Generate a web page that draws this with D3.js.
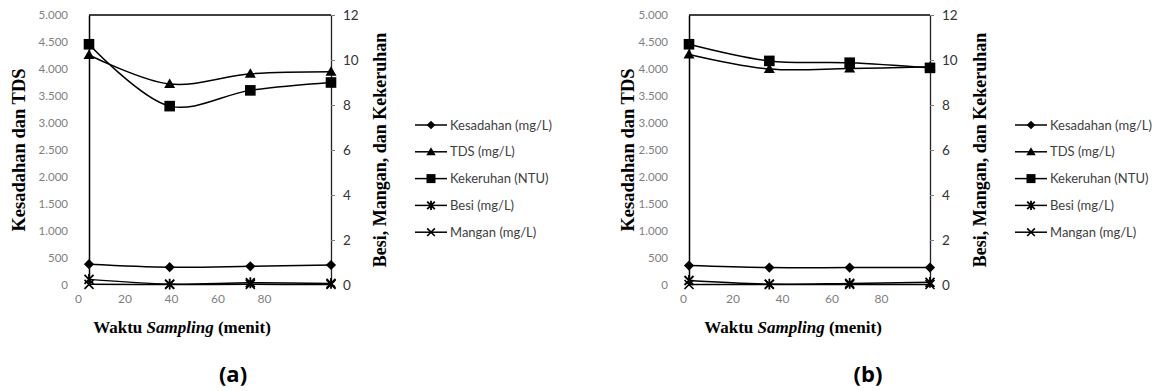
<!DOCTYPE html>
<html>
<head>
<meta charset="utf-8">
<script src="https://cdn.jsdelivr.net/npm/d3@7"></script>
<style>
  body { margin: 0; background: #fff; }
  svg { display: block; }
</style>
</head>
<body>
<script>
// Kualitas air vs waktu sampling, two panels (a) and (b)

const times = [0, 30, 60, 90];
const xTickLabels = [0, 20, 40, 60, 80];
const leftTicks = [0, 500, 1000, 1500, 2000, 2500, 3000, 3500, 4000, 4500, 5000];
const rightTicks = [0, 2, 4, 6, 8, 10, 12];
const seriesNames = ["Kesadahan (mg/L)", "TDS (mg/L)", "Kekeruhan (NTU)", "Besi (mg/L)", "Mangan (mg/L)"];

// panel (a)
const kesadahanA = [385, 330, 345, 370];
const tdsA = [4260, 3720, 3910, 3950];
const kekeruhanA = [10.7, 7.95, 8.65, 9.0];
const besiA = [0.25, 0.04, 0.1, 0.07];
const manganA = [0.03, 0.02, 0.03, 0.02];

// panel (b)
const kesadahanB = [360, 322, 322, 322];
const tdsB = [4270, 4000, 4010, 4040];
const kekeruhanB = [10.7, 9.96, 9.88, 9.65];
const besiB = [0.2, 0.04, 0.07, 0.12];
const manganB = [0.02, 0.02, 0.02, 0.02];

const w = 1165;
const h = 391;

const svg = d3.select("body")
  .append("svg")
  .attr("width", w)
  .attr("height", h);

const dotFormat = d3.formatLocale({ decimal: ",", thousands: ".", grouping: [3], currency: ["", ""] }).format(",");

const serifFont = "'Liberation Serif', 'Times New Roman', serif";
const sansFont = "Lato, 'Open Sans', sans-serif";

// marker drawing
function drawMarker(sel, type, s) {
  s = s || 1;
  if (type === "diamond") {
    sel.append("rect")
      .attr("x", -3.6 * s).attr("y", -3.6 * s)
      .attr("width", 7.2 * s).attr("height", 7.2 * s)
      .attr("transform", "rotate(45)")
      .attr("fill", "#000");
  } else if (type === "triangle") {
    sel.append("path")
      .attr("d", `M0,${-5.5 * s}L${5.5 * s},${4 * s}L${-5.5 * s},${4 * s}Z`)
      .attr("fill", "#000");
  } else if (type === "square") {
    sel.append("rect")
      .attr("x", -5.3 * s).attr("y", -5.3 * s)
      .attr("width", 10.6 * s).attr("height", 10.6 * s)
      .attr("fill", "#000");
  } else if (type === "asterisk") {
    const r = 4.5 * s;
    sel.append("path")
      .attr("d", `M${-r},${-r}L${r},${r}M${-r},${r}L${r},${-r}M0,${-r * 1.2}L0,${r * 1.2}`)
      .attr("stroke", "#000").attr("stroke-width", 1.8).attr("fill", "none");
  } else if (type === "x") {
    const r = 4.5 * s;
    sel.append("path")
      .attr("d", `M${-r},${-r}L${r},${r}M${-r},${r}L${r},${-r}`)
      .attr("stroke", "#000").attr("stroke-width", 1.6).attr("fill", "none");
  }
}

function drawPanel(cfg) {
  const g = svg.append("g");

  const x = d3.scaleLinear().domain([0, 90]).range([cfg.left, cfg.right]);
  const yL = d3.scaleLinear().domain([0, 5000]).range([cfg.bottom, cfg.top]);
  const yR = d3.scaleLinear().domain([0, 12]).range([cfg.bottom, cfg.top]);
  // the printed x labels do not line up with the points in the original figure
  const xLab = d3.scaleLinear().domain([0, 80]).range(cfg.labelRange);

  // left axis
  const la = g.append("g")
    .attr("transform", `translate(${cfg.left},0)`)
    .call(d3.axisLeft(yL).tickValues(leftTicks).tickSize(0).tickPadding(21).tickFormat(dotFormat));
  la.select(".domain").attr("stroke", "#000").attr("stroke-width", 1.5);
  la.selectAll("text").attr("font-family", sansFont).attr("font-size", "11.5px").attr("fill", "#7f7f7f");

  // right axis
  const ra = g.append("g")
    .attr("transform", `translate(${cfg.right},0)`)
    .call(d3.axisRight(yR).tickValues(rightTicks).tickSizeInner(4).tickSizeOuter(0).tickPadding(8));
  ra.select(".domain").attr("stroke", "#222").attr("stroke-width", 1.3);
  ra.selectAll(".tick line").attr("stroke", "#7f7f7f");
  ra.selectAll("text").attr("font-family", sansFont).attr("font-size", "13.5px").attr("fill", "#333");

  // top border
  g.append("line")
    .attr("x1", x(0)).attr("x2", x(90))
    .attr("y1", yL(5000)).attr("y2", yL(5000))
    .attr("stroke", "#000").attr("stroke-width", 1.5);

  // x tick labels
  const xa = g.append("g")
    .attr("transform", `translate(0,${cfg.bottom + 9})`)
    .call(d3.axisBottom(xLab).tickValues(xTickLabels).tickSize(0).tickPadding(0));
  xa.select(".domain").remove();
  xa.selectAll("text").attr("font-family", sansFont).attr("font-size", "12px").attr("fill", "#7f7f7f");

  const series = [
    { vals: cfg.kesadahan, y: yL, marker: "diamond" },
    { vals: cfg.tds, y: yL, marker: "triangle" },
    { vals: cfg.kekeruhan, y: yR, marker: "square" },
    { vals: cfg.besi, y: yR, marker: "asterisk" },
    { vals: cfg.mangan, y: yR, marker: "x" }
  ];

  series.slice().reverse().forEach(s => {
    const pts = times.map((t, i) => [t, s.vals[i]]);
    const line = d3.line()
      .x(d => x(d[0]))
      .y(d => s.y(d[1]))
      .curve(d3.curveCatmullRom.alpha(0.5));
    g.append("path")
      .attr("d", line(pts))
      .attr("fill", "none")
      .attr("stroke", "#000")
      .attr("stroke-width", 1.5);
    g.selectAll(null)
      .data(pts)
      .enter()
      .append("g")
      .attr("transform", d => `translate(${x(d[0])},${s.y(d[1])})`)
      .each(function () { drawMarker(d3.select(this), s.marker, 1); });
  });

  // axis titles
  g.append("text")
    .attr("transform", `translate(${cfg.leftTitleX},${(cfg.top + cfg.bottom) / 2}) rotate(-90)`)
    .attr("text-anchor", "middle")
    .attr("dy", "0.35em")
    .attr("font-family", serifFont)
    .attr("font-weight", "bold")
    .attr("font-size", "18.5px")
    .text("Kesadahan dan TDS");

  g.append("text")
    .attr("transform", `translate(${cfg.rightTitleX},${(cfg.top + cfg.bottom) / 2}) rotate(-90)`)
    .attr("text-anchor", "middle")
    .attr("dy", "0.35em")
    .attr("font-family", serifFont)
    .attr("font-weight", "bold")
    .attr("font-size", "18px")
    .text("Besi, Mangan, dan Kekeruhan");

  const xt = g.append("text")
    .attr("x", cfg.xTitleX)
    .attr("y", 333)
    .attr("text-anchor", "middle")
    .attr("font-family", serifFont)
    .attr("font-weight", "bold")
    .attr("font-size", "17px");
  xt.append("tspan").text("Waktu ");
  xt.append("tspan").attr("font-style", "italic").text("Sampling");
  xt.append("tspan").text(" (menit)");

  g.append("text")
    .attr("x", cfg.captionX)
    .attr("y", 382)
    .attr("text-anchor", "middle")
    .attr("font-family", "'Open Sans', sans-serif")
    .attr("font-weight", "bold")
    .attr("font-size", "22px")
    .text(cfg.caption);

  // legend
  const legend = g.append("g")
    .attr("transform", `translate(${cfg.legendX},125)`);
  const item = legend.selectAll(".legend-item")
    .data(series.map((s, i) => ({ name: seriesNames[i], marker: s.marker })))
    .enter()
    .append("g")
    .attr("class", "legend-item")
    .attr("transform", (d, i) => `translate(0,${i * 26.8})`);
  item.append("line")
    .attr("x1", 0).attr("x2", 32)
    .attr("stroke", "#000").attr("stroke-width", 1.5);
  item.append("g")
    .attr("transform", "translate(16,0)")
    .each(function (d) { drawMarker(d3.select(this), d.marker, 0.85); });
  item.append("text")
    .attr("x", 35)
    .attr("dy", "0.35em")
    .attr("font-family", sansFont)
    .attr("font-size", "13px")
    .attr("fill", "#404040")
    .text(d => d.name);
}

drawPanel({
  left: 89, right: 331, top: 15, bottom: 285,
  labelRange: [78, 264],
  leftTitleX: 19, rightTitleX: 380,
  xTitleX: 182, captionX: 233, caption: "(a)",
  legendX: 415,
  kesadahan: kesadahanA, tds: tdsA, kekeruhan: kekeruhanA, besi: besiA, mangan: manganA
});

drawPanel({
  left: 689, right: 930, top: 15, bottom: 285,
  labelRange: [683, 881],
  leftTitleX: 628, rightTitleX: 980,
  xTitleX: 793, captionX: 868, caption: "(b)",
  legendX: 1015,
  kesadahan: kesadahanB, tds: tdsB, kekeruhan: kekeruhanB, besi: besiB, mangan: manganB
});
</script>
</body>
</html>
